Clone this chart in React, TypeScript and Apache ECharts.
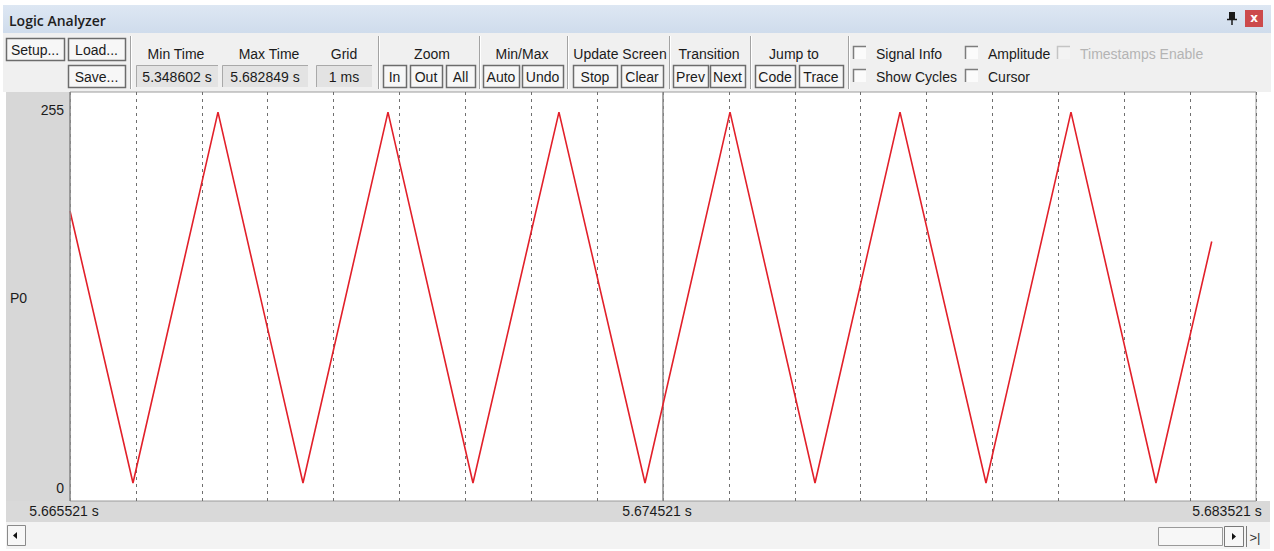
import React, { useEffect, useRef } from 'react';
import * as echarts from 'echarts';

// ---- data ----
const T_START = 5.665521; // s, left edge of the view
const TIMES_S = [
  5.665521, 5.666477, 5.667767, 5.669057, 5.670347, 5.671637, 5.672942, 5.674248,
  5.675538, 5.676828, 5.678118, 5.679423, 5.680713, 5.682003, 5.682849,
];
const P0_VALUES = [187, 0, 255, 0, 255, 0, 255, 0, 255, 0, 255, 0, 255, 0, 166];
const X_TICK_MS = [0, 9, 18];
const X_TICK_LABELS = ['5.665521 s', '5.674521 s', '5.683521 s'];
const Y_TICKS = [0, 255];
const Y_TICK_LABELS = ['0', '255'];
const CURSOR_MS = 9;
const SIGNAL_NAME = 'P0';
const MIN_TIME = '5.348602 s';
const MAX_TIME = '5.682849 s';
const GRID_TEXT = '1 ms';

const FONT = '14px "Liberation Sans", Arial, sans-serif';
const INK = '#1b1b1b';

function txt(x: number, y: number, text: string, align = 'center', fill = INK, font = FONT) {
  return { type: 'text', x, y, silent: true, z: 20, style: { text, fill, font, align, verticalAlign: 'middle' } };
}
function button(x: number, y: number, w: number, h: number, label: string) {
  return [
    { type: 'rect', z: 20, silent: true, shape: { x: x + 0.5, y: y + 0.5, width: w, height: h }, style: { fill: '#f7f7f7', stroke: '#6c6c6c', lineWidth: 1.5 } },
    txt(x + w / 2, y + h / 2 + 1, label),
  ];
}
function valueBox(x: number, y: number, w: number, h: number, label: string) {
  return [
    { type: 'rect', z: 20, silent: true, shape: { x, y, width: w, height: h }, style: { fill: '#e3e3e3' } },
    { type: 'polyline', z: 20, silent: true, shape: { points: [[x + 0.5, y + h], [x + 0.5, y + 0.5], [x + w, y + 0.5]] }, style: { stroke: '#a9a9a9', lineWidth: 1, fill: null } },
    txt(x + w / 2, y + h / 2 + 1, label),
  ];
}
function sep(x: number) {
  return [
    { type: 'line', z: 20, silent: true, shape: { x1: x + 0.5, y1: 36, x2: x + 0.5, y2: 89 }, style: { stroke: '#a3a3a3', lineWidth: 1 } },
    { type: 'line', z: 20, silent: true, shape: { x1: x + 1.5, y1: 36, x2: x + 1.5, y2: 89 }, style: { stroke: '#ffffff', lineWidth: 1 } },
  ];
}
function checkbox(x: number, y: number, label: string, disabled = false) {
  return [
    { type: 'rect', z: 20, silent: true, shape: { x, y, width: 13, height: 13 }, style: { fill: disabled ? '#f3f3f3' : '#fbfbfb' } },
    { type: 'polyline', z: 20, silent: true, shape: { points: [[x + 0.5, y + 13], [x + 0.5, y + 0.5], [x + 13, y + 0.5]] }, style: { stroke: disabled ? '#c4c4c4' : '#7d7d7d', lineWidth: 1.5, fill: null } },
    txt(x + 23, y + 8, label, 'left', disabled ? '#b4b4b4' : INK),
  ];
}

function buildGraphics() {
  const g: any[] = [];
  // title bar
  g.push({
    type: 'rect', z: -5, silent: true, shape: { x: 3, y: 5, width: 1268, height: 28 },
    style: { fill: new echarts.graphic.LinearGradient(0, 0, 0, 1, [{ offset: 0, color: '#dde7f3' }, { offset: 1, color: '#cfdcec' }]) },
  });
  g.push(txt(9, 20, 'Logic Analyzer', 'left', '#1e1e1e', '600 14px "Open Sans", "Noto Sans", sans-serif'));
  // pin icon
  g.push({ type: 'rect', z: 20, silent: true, shape: { x: 1229, y: 12, width: 6, height: 7 }, style: { fill: '#1a1a1a' } });
  g.push({ type: 'line', z: 20, silent: true, shape: { x1: 1227, y1: 19.5, x2: 1237, y2: 19.5 }, style: { stroke: '#1a1a1a', lineWidth: 1.5 } });
  g.push({ type: 'line', z: 20, silent: true, shape: { x1: 1232, y1: 19, x2: 1232, y2: 25 }, style: { stroke: '#1a1a1a', lineWidth: 1.5 } });
  // close button
  g.push({ type: 'rect', z: 20, silent: true, shape: { x: 1245, y: 10, width: 18, height: 17 }, style: { fill: '#cc4a4c' } });
  g.push(txt(1254, 18, 'x', 'center', '#ffffff', 'bold 12px "DejaVu Sans", sans-serif'));
  // toolbar
  g.push({ type: 'rect', z: -5, silent: true, shape: { x: 3, y: 33, width: 1268, height: 59 }, style: { fill: '#f0f0f0' } });
  g.push(...button(6, 38, 58, 22, 'Setup...'));
  g.push(...button(68, 38, 57, 22, 'Load...'));
  g.push(...button(68, 65, 57, 22, 'Save...'));
  g.push(...sep(130));
  g.push(txt(176, 54, 'Min Time'), txt(269, 54, 'Max Time'), txt(344, 54, 'Grid'));
  g.push(...valueBox(136, 65, 82, 22, MIN_TIME));
  g.push(...valueBox(222, 65, 86, 22, MAX_TIME));
  g.push(...valueBox(316, 65, 56, 22, GRID_TEXT));
  g.push(...sep(378));
  g.push(txt(432, 54, 'Zoom'));
  g.push(...button(383, 65, 23, 22, 'In'));
  g.push(...button(410, 65, 32, 22, 'Out'));
  g.push(...button(446, 65, 29, 22, 'All'));
  g.push(...sep(479));
  g.push(txt(522, 54, 'Min/Max'));
  g.push(...button(483, 65, 36, 22, 'Auto'));
  g.push(...button(522, 65, 41, 22, 'Undo'));
  g.push(...sep(567));
  g.push(txt(620, 54, 'Update Screen'));
  g.push(...button(573, 65, 44, 22, 'Stop'));
  g.push(...button(621, 65, 42, 22, 'Clear'));
  g.push(...sep(669));
  g.push(txt(709, 54, 'Transition'));
  g.push(...button(673, 65, 35, 22, 'Prev'));
  g.push(...button(710, 65, 35, 22, 'Next'));
  g.push(...sep(750));
  g.push(txt(794, 54, 'Jump to'));
  g.push(...button(755, 65, 40, 22, 'Code'));
  g.push(...button(799, 65, 44, 22, 'Trace'));
  g.push(...sep(848));
  g.push(...checkbox(853, 46, 'Signal Info'));
  g.push(...checkbox(965, 46, 'Amplitude'));
  g.push(...checkbox(1057, 46, 'Timestamps Enable', true));
  g.push(...checkbox(853, 69, 'Show Cycles'));
  g.push(...checkbox(965, 69, 'Cursor'));
  // left signal panel
  g.push({ type: 'rect', z: -5, silent: true, shape: { x: 6, y: 92, width: 64, height: 409 }, style: { fill: '#d7d7d7' } });
  g.push({ type: 'line', z: 11, silent: true, shape: { x1: 70, y1: 92, x2: 70, y2: 501 }, style: { stroke: '#8e8e8e', lineWidth: 1.5 } });
  g.push(txt(10, 298, SIGNAL_NAME, 'left'));
  // time bar
  g.push({ type: 'rect', z: -5, silent: true, shape: { x: 6, y: 501, width: 1264, height: 21 }, style: { fill: '#d9d9d9' } });
  // scroll bar area
  g.push({ type: 'rect', z: -5, silent: true, shape: { x: 6, y: 522, width: 1264, height: 27 }, style: { fill: '#f3f3f3' } });
  g.push({ type: 'rect', z: 11, silent: true, shape: { x: 7.5, y: 525.5, width: 18, height: 20 }, style: { fill: '#f7f7f7', stroke: '#8a8a8a', lineWidth: 1 } });
  g.push({ type: 'polygon', z: 12, silent: true, shape: { points: [[13, 535.5], [17, 532], [17, 539]] }, style: { fill: '#111' } });
  g.push({ type: 'rect', z: 11, silent: true, shape: { x: 1158.5, y: 527.5, width: 64, height: 18 }, style: { fill: '#f7f7f7', stroke: '#9a9a9a', lineWidth: 1 } });
  g.push({ type: 'rect', z: 11, silent: true, shape: { x: 1224.5, y: 526.5, width: 19, height: 20 }, style: { fill: '#f7f7f7', stroke: '#7a7a7a', lineWidth: 1 } });
  g.push({ type: 'polygon', z: 12, silent: true, shape: { points: [[1236, 536.5], [1232, 533], [1232, 540]] }, style: { fill: '#111' } });
  g.push({ type: 'line', z: 11, silent: true, shape: { x1: 1246.5, y1: 526, x2: 1246.5, y2: 547 }, style: { stroke: '#7a7a7a', lineWidth: 1 } });
  g.push(txt(1255, 537, '>|', 'center', '#333', '13px "Liberation Sans", sans-serif'));
  return g;
}

export default function App() {
  const ref = useRef<HTMLDivElement>(null);
  useEffect(() => {
    if (!ref.current) return;
    const chart = echarts.init(ref.current, undefined, { renderer: 'svg' });
    const xMax = X_TICK_MS[X_TICK_MS.length - 1];
    const data = TIMES_S.map((t, i) => [(t - T_START) * 1000, P0_VALUES[i]]);
    const labelFont = '"Liberation Sans", Arial, sans-serif';
    chart.setOption({
      animation: false,
      backgroundColor: '#ffffff',
      grid: { left: 70, right: 1274 - 1256, top: 92, bottom: 551 - 501, show: true, backgroundColor: '#ffffff', borderColor: '#9c9c9c', borderWidth: 1 },
      xAxis: {
        type: 'value', min: 0, max: xMax, interval: 1, z: 5,
        axisLine: { show: false }, axisTick: { show: false },
        splitLine: { show: true, lineStyle: { color: '#6f6f6f', type: [3, 4], width: 1 } },
        axisLabel: {
          customValues: X_TICK_MS, margin: 3, color: INK, fontSize: 14, fontFamily: labelFont,
          padding: [0, 12, 0, 0],
          formatter: (v: number) => {
            const i = X_TICK_MS.indexOf(Math.round(v));
            if (i < 0) return '';
            return i === X_TICK_MS.length - 1 ? `{m|${X_TICK_LABELS[i]}}` : X_TICK_LABELS[i];
          },
          rich: { m: { fontSize: 14, color: INK, fontFamily: labelFont, padding: [0, 46, 0, 0] } },
        },
      },
      yAxis: {
        type: 'value', min: -12.4, max: 268.8, z: 5,
        axisLine: { show: false }, axisTick: { show: false }, splitLine: { show: false },
        axisLabel: {
          customValues: Y_TICKS, margin: 6, color: INK, fontSize: 14, fontFamily: labelFont,
          formatter: (v: number) => {
            const i = Y_TICKS.indexOf(Math.round(v));
            if (i < 0) return '';
            return i === 0 ? `{lo|${Y_TICK_LABELS[i]}}` : `{hi|${Y_TICK_LABELS[i]}}`;
          },
          rich: {
            lo: { fontSize: 14, color: INK, fontFamily: labelFont, padding: [10, 0, 0, 0] },
            hi: { fontSize: 14, color: INK, fontFamily: labelFont, padding: [0, 0, 4, 0] },
          },
        },
      },
      graphic: buildGraphics(),
      series: [
        {
          type: 'line', name: SIGNAL_NAME, data, symbol: 'none', showSymbol: false, z: 6,
          lineStyle: { color: '#e2202a', width: 1.6 },
          markLine: {
            silent: true, symbol: ['none', 'none'], label: { show: false },
            lineStyle: { color: '#8a8a8a', type: 'solid', width: 1.5 },
            data: [{ xAxis: CURSOR_MS }],
          },
        },
      ],
    });
    return () => chart.dispose();
  }, []);
  return <div ref={ref} style={{ position: 'absolute', left: 0, top: 0, width: 1274, height: 551 }} />;
}
